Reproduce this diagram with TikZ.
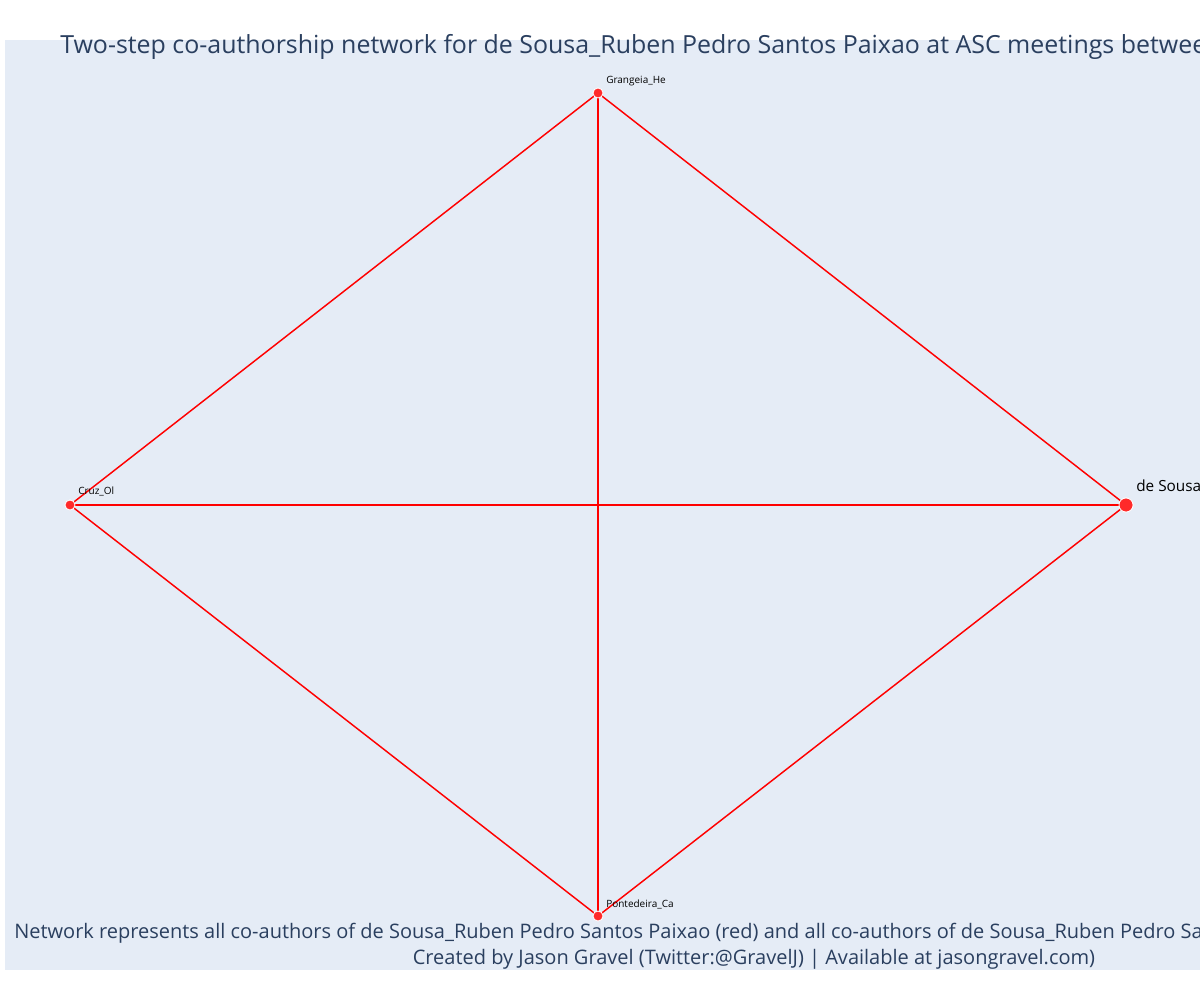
\documentclass[tikz,border=0pt]{standalone}
\usepackage{fontspec}
\setmainfont{Open Sans}
\definecolor{plotbg}{HTML}{E5ECF6}
\definecolor{titleblue}{HTML}{2A3F5F}
\definecolor{edgered}{HTML}{FF0000}
\definecolor{dotred}{HTML}{FF2A2A}
\begin{document}
\begin{tikzpicture}[x=0.75pt,y=-0.75pt,
  author/.style={circle,fill=dotred,draw=white,line width=0.6pt,inner sep=0pt,minimum size=7.5pt},
  focal/.style={author,minimum size=10.5pt},
  link/.style={draw=edgered,line width=1.1pt},
  namelabel/.style={anchor=base west,inner sep=0pt,font=\fontsize{7.5}{9}\selectfont,text=black},
  focallabel/.style={anchor=base west,inner sep=0pt,font=\fontsize{11.5}{13}\selectfont,text=black},
  heading/.style={anchor=base west,inner sep=0pt,font=\fontsize{18.7}{22}\selectfont,text=titleblue},
  note/.style={inner sep=0pt,font=\fontsize{15}{18}\selectfont,text=titleblue}]
\useasboundingbox (0,0) rectangle (1200,1000);
\fill[white] (0,0) rectangle (1200,1000);
\fill[plotbg] (5,40) rectangle (1200,970);

% authors
\node[author] (gr) at (598,93) {};
\node[author] (cr) at (70,505) {};
\node[focal] (ds) at (1126,505) {};
\node[author] (po) at (598,916) {};

% co-authorship links
\draw[link] (gr.center) -- (cr.center);
\draw[link] (gr.center) -- (ds.center);
\draw[link] (gr.center) -- (po.center);
\draw[link] (cr.center) -- (ds.center);
\draw[link] (cr.center) -- (po.center);
\draw[link] (ds.center) -- (po.center);

% redraw dots above the links
\node[author] at (gr) {};
\node[author] at (cr) {};
\node[focal] at (ds) {};
\node[author] at (po) {};

% author names
\node[namelabel] (grl) at (606,83) {Grangeia\_He};
\node[namelabel] (crl) at (78,494) {Cruz\_Ol};
\node[focallabel] (dsl) at (1136,491) {de Sousa\_Ruben Pedro Santos Paixao};
\node[namelabel] (pol) at (606,907) {Pontedeira\_Ca};

% title and notes
\node[heading] (title) at (60,53) {Two-step co-authorship network for de Sousa\_Ruben Pedro Santos Paixao at ASC meetings between};
\node[note,anchor=base west] (note1) at (14,938) {Network represents all co-authors of de Sousa\_Ruben Pedro Santos Paixao (red) and all co-authors of de Sousa\_Ruben Pedro Santos Paixao};
\node[note,anchor=base] (note2) at (754,964) {Created by Jason Gravel (Twitter:@GravelJ) | Available at jasongravel.com)};
\end{tikzpicture}
\end{document}
